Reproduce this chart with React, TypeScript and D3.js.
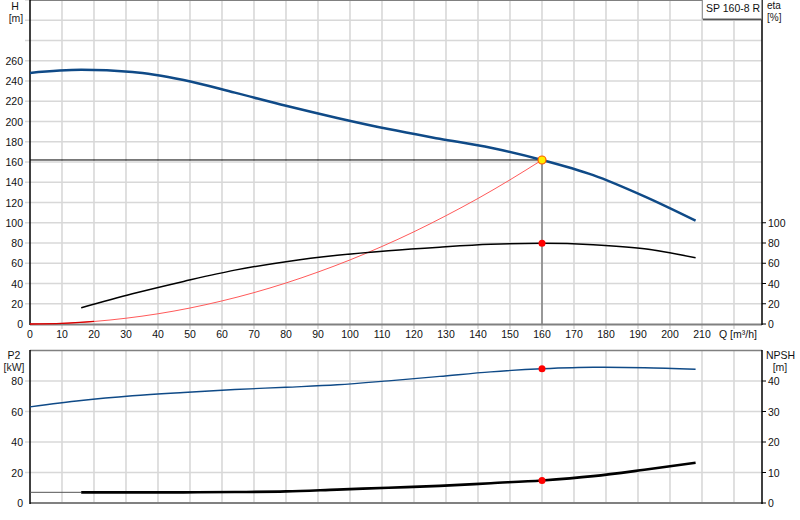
import React from 'react'
import { scaleLinear, line, curveMonotoneX, range } from "d3";

// pump curve data (Q in m³/h)
const qPts = [0, 16, 32, 48, 64, 80, 96, 112, 128, 144, 160, 176, 192, 208];
const headVals = [248, 251, 249, 241, 228.5, 215.5, 203.5, 192.5, 183, 174, 162, 147, 126, 102];

const effQ = [16, 32, 48, 64, 80, 96, 112, 128, 144, 160, 176, 192, 208];
const effVals = [16, 29.8, 42, 53.2, 61.5, 67.8, 72.4, 75.9, 78.7, 79.7, 78.3, 74.3, 65.4];

const sysQ = [0, 10, 20, 30, 40, 50, 60, 70, 80, 90, 100, 110, 120, 130, 140, 150, 160];
const sysVals = [0, 0.6, 2.5, 5.7, 10.1, 15.8, 22.8, 31, 40.5, 51.3, 63.3, 76.6, 91.1, 107, 124, 142.4, 162];

const p2Vals = [63, 67.2, 70.3, 72.5, 74.4, 75.9, 77.5, 80.1, 83, 86, 88, 89, 88.7, 87.7];
const npshQ = [16, 32, 48, 64, 80, 96, 112, 128, 144, 160, 176, 192, 208];
const npshVals = [3.5, 3.5, 3.5, 3.6, 3.8, 4.4, 5.0, 5.6, 6.5, 7.4, 8.8, 10.9, 13.2];

const duty = { q: 160, h: 162, eta: 79.7, p2: 88, npsh: 7.4 };

const headTicks = range(0, 261, 20);
const etaTicks = range(0, 101, 20);
const qTicks = range(0, 211, 10);
const p2Ticks = [0, 20, 40, 60, 80];
const npshTicks = [0, 10, 20, 30, 40];

const FONT = "'Liberation Sans', Arial, sans-serif";

export default function App() {
  const x = scaleLinear().domain([0, 228.75]).range([30, 762]);
  const yTop = scaleLinear().domain([0, 320]).range([324, 0]);
  const yP2 = scaleLinear().domain([0, 100]).range([503, 350.5]);
  const yNpsh = scaleLinear().domain([0, 50]).range([503, 350.5]);

  const mk = (ys: any, qs: number[], vs: number[]) =>
    line<number>().x((_, i) => x(qs[i])).y(d => ys(d)).curve(curveMonotoneX)(vs) || "";

  const gridX = range(10, 221, 10);
  const topGridY = range(20, 321, 20);

  return (
    <div>
      <style>{`body{margin:0}`}</style>
      <svg width={800} height={520} style={{ display: "block", fontFamily: FONT }}>
        <rect width={800} height={520} fill="#fff" />

        {/* top panel grid */}
        {gridX.map(q => (
          <line key={"gx" + q} x1={x(q)} x2={x(q)} y1={0} y2={329} stroke="#d8d8d8" strokeWidth={1.6} />
        ))}
        {topGridY.map(v => (
          <line key={"gy" + v} x1={25} x2={762} y1={yTop(v)} y2={yTop(v)} stroke="#d8d8d8" strokeWidth={1.6} />
        ))}

        {/* bottom panel grid */}
        {gridX.map(q => (
          <line key={"bgx" + q} x1={x(q)} x2={x(q)} y1={350.5} y2={503} stroke="#d8d8d8" strokeWidth={1.6} />
        ))}
        {p2Ticks.slice(1).map(v => (
          <line key={"bgy" + v} x1={25} x2={762} y1={yP2(v)} y2={yP2(v)} stroke="#d8d8d8" strokeWidth={1.6} />
        ))}

        {/* top panel frame */}
        <line x1={30} x2={762} y1={0.5} y2={0.5} stroke="#808080" strokeWidth={1} />
        <line x1={30} x2={762} y1={324.5} y2={324.5} stroke="#808080" strokeWidth={2} />
        <line x1={30} x2={30} y1={0} y2={325} stroke="#000" strokeWidth={1.5} />
        <line x1={762} x2={762} y1={0} y2={325} stroke="#000" strokeWidth={1.5} />

        {/* bottom panel frame */}
        <line x1={30} x2={762} y1={350.5} y2={350.5} stroke="#808080" strokeWidth={1.5} />
        <line x1={30} x2={762} y1={503} y2={503} stroke="#808080" strokeWidth={2} />
        <line x1={30} x2={30} y1={350} y2={504} stroke="#000" strokeWidth={1.5} />
        <line x1={762} x2={762} y1={350} y2={504} stroke="#000" strokeWidth={1.5} />

        {/* tick labels top-left */}
        {headTicks.map(v => (
          <text key={"ht" + v} x={23} y={yTop(v) + 4} fontSize={10.5} textAnchor="end" fill="#111">{v}</text>
        ))}
        <text x={15} y={10} fontSize={10.5} textAnchor="middle" fill="#111">H</text>
        <text x={16} y={22} fontSize={10.5} textAnchor="middle" fill="#222">[m]</text>

        {/* eta axis */}
        {etaTicks.map(v => (
          <g key={"et" + v}>
            <line x1={762} x2={766} y1={yTop(v)} y2={yTop(v)} stroke="#000" strokeWidth={1} />
            <text x={768} y={yTop(v) + 4} fontSize={10.5} fill="#111">{v}</text>
          </g>
        ))}
        <text x={767} y={9} fontSize={10} fill="#111">eta</text>
        <text x={767} y={21} fontSize={10} fill="#222">[%]</text>

        {/* x axis labels */}
        {qTicks.map(q => (
          <text key={"qt" + q} x={x(q)} y={338} fontSize={10.5} textAnchor="middle" fill="#111">{q}</text>
        ))}
        <text x={719} y={338} fontSize={10.5} fill="#111">Q [m³/h]</text>

        {/* bottom panel labels */}
        {p2Ticks.map(v => (
          <text key={"pt" + v} x={23} y={yP2(v) + 4} fontSize={10.5} textAnchor="end" fill="#111">{v}</text>
        ))}
        <text x={14} y={359} fontSize={10.5} textAnchor="middle" fill="#111">P2</text>
        <text x={14} y={371} fontSize={10.5} textAnchor="middle" fill="#222">[kW]</text>
        {npshTicks.map(v => (
          <g key={"nt" + v}>
            <line x1={762} x2={766} y1={yNpsh(v)} y2={yNpsh(v)} stroke="#000" strokeWidth={1} />
            <text x={768} y={yNpsh(v) + 4} fontSize={10.5} fill="#111">{v}</text>
          </g>
        ))}
        <text x={766} y={359} fontSize={10.5} fill="#111">NPSH</text>
        <text x={780} y={371} fontSize={10.5} textAnchor="middle" fill="#222">[m]</text>

        {/* duty point guides */}
        <line x1={30} x2={x(duty.q)} y1={yTop(duty.h)} y2={yTop(duty.h)} stroke="#000" strokeWidth={1} />
        <line x1={x(duty.q)} x2={x(duty.q)} y1={yTop(duty.h)} y2={324} stroke="#808080" strokeWidth={1.5} />

        {/* system curve */}
        <path d={mk(yTop, sysQ, sysVals)} fill="none" stroke="#ff5a5a" strokeWidth={1} />
        <path d={mk(yTop, sysQ.slice(0, 3), sysVals.slice(0, 3))} fill="none" stroke="#d40000" strokeWidth={1.3} />

        {/* efficiency */}
        <path d={mk(yTop, effQ, effVals)} fill="none" stroke="#000" strokeWidth={1.5} />

        {/* head */}
        <path d={mk(yTop, qPts, headVals)} fill="none" stroke="#0f4a87" strokeWidth={2.5} />

        {/* P2 */}
        <path d={mk(yP2, qPts, p2Vals)} fill="none" stroke="#0f4a87" strokeWidth={1.4} />

        {/* NPSH */}
        <line x1={x(0)} x2={x(16)} y1={yNpsh(3.5)} y2={yNpsh(3.5)} stroke="#555" strokeWidth={1} />
        <path d={mk(yNpsh, npshQ, npshVals)} fill="none" stroke="#000" strokeWidth={2.6} />

        {/* duty markers */}
        <circle cx={x(duty.q)} cy={yTop(duty.h)} r={4} fill="#ffee00" stroke="#ff5a00" strokeWidth={1.2} />
        <circle cx={x(duty.q)} cy={yTop(duty.eta)} r={3.5} fill="#ff0000" />
        <circle cx={x(duty.q)} cy={yP2(duty.p2)} r={3.5} fill="#ff0000" />
        <circle cx={x(duty.q)} cy={yNpsh(duty.npsh)} r={3.5} fill="#ff0000" />

        {/* legend box */}
        <rect x={702.5} y={-1} width={59} height={20} fill="#fff" stroke="#999" strokeWidth={1} />
        <line x1={703} x2={762} y1={19.5} y2={19.5} stroke="#555" strokeWidth={1.5} />
        <text x={706} y={12} fontSize={10.5} fill="#111">SP 160-8 R</text>
      </svg>
    </div>
  );
}
